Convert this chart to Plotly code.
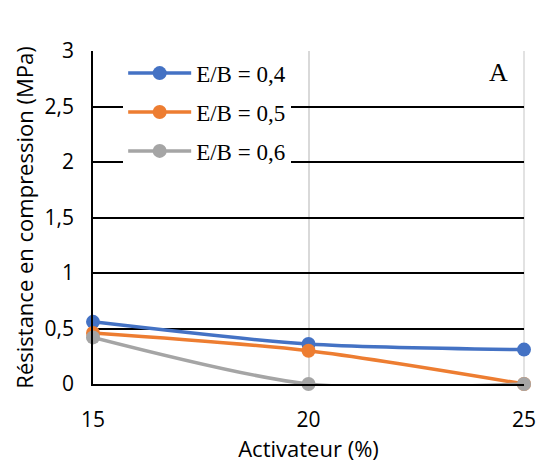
import plotly.graph_objects as go

activateur = [15, 20, 25]
eb_04 = [0.56, 0.36, 0.31]
eb_05 = [0.46, 0.30, 0.0]
eb_06 = [0.42, 0.0, 0.0]
names = ["E/B = 0,4", "E/B = 0,5", "E/B = 0,6"]
colors = ["#4472C4", "#ED7D31", "#A5A5A5"]
y_ticks = [0, 0.5, 1, 1.5, 2, 2.5, 3]
y_labels = ["0", "0,5", "1", "1,5", "2", "2,5", "3"]

fig = go.Figure()
for i, (vals, name, col) in enumerate(zip([eb_04, eb_05, eb_06], names, colors)):
    fig.add_trace(go.Scatter(
        x=activateur, y=vals, name=name, mode="lines+markers",
        line=dict(color=col, width=3.5, shape="spline", smoothing=0.8),
        marker=dict(color=col, size=14),
        legendgroup=f"g{i}", cliponaxis=False,
    ))

fig.update_layout(
    width=537, height=466,
    margin=dict(l=93, r=13, t=51, b=82),
    plot_bgcolor="white", paper_bgcolor="white",
    showlegend=True,
    legend=dict(x=0.07, y=0.998, xanchor="left", yanchor="top",
                bgcolor="white", borderwidth=0,
                font=dict(family="Liberation Serif", size=23, color="black"),
                itemwidth=63, tracegroupgap=6),
    xaxis=dict(range=[15, 25], tickvals=activateur, ticktext=[str(v) for v in activateur],
               showgrid=True, gridcolor="#D9D9D9", gridwidth=1.5,
               showline=True, linecolor="black", linewidth=1.5,
               zeroline=False, ticks="", ticklabelstandoff=16, automargin=False,
               tickfont=dict(family="Open Sans", size=21, color="black"),
               title=dict(text="Activateur (%)", font=dict(family="Open Sans", size=22, color="black"),
                          standoff=10)),
    yaxis=dict(range=[0, 3], tickvals=y_ticks, ticktext=y_labels,
               showgrid=True, gridcolor="black", gridwidth=1.5,
               showline=True, linecolor="black", linewidth=1.5,
               zeroline=False, ticks="", ticklabelstandoff=13, automargin=False,
               tickfont=dict(family="Open Sans", size=21, color="black"),
               title=dict(text="Résistance en compression (MPa)",
                          font=dict(family="Open Sans", size=22, color="black"),
                          standoff=5)),
    shapes=[dict(type="line", xref="paper", yref="paper", x0=1, x1=1, y0=0, y1=1,
                 line=dict(color="#D9D9D9", width=1.5), layer="below")],
    annotations=[dict(text="A", x=0.968, y=0.934, xref="paper", yref="paper",
                      xanchor="right", yanchor="middle", showarrow=False,
                      font=dict(family="Liberation Serif", size=26, color="black"))],
)

# remove the page's default body margin so the figure fills the window exactly
fig.write_html("out.html",
               config={"displayModeBar": False},
               post_script="document.body.style.margin='0';document.body.style.overflow='hidden';")
